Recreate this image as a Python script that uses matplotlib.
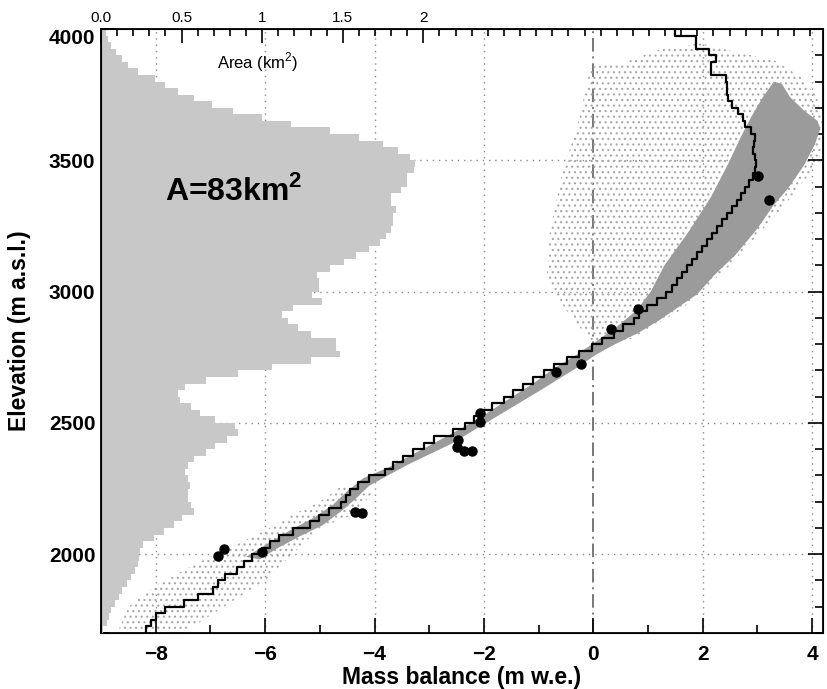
import numpy as np
import matplotlib.pyplot as plt
from matplotlib.ticker import MultipleLocator, FixedLocator, FixedFormatter

plt.rcParams['font.family'] = ['Liberation Sans', 'DejaVu Sans']
plt.rcParams['mathtext.fontset'] = 'custom'
plt.rcParams['mathtext.rm'] = 'Liberation Sans'
plt.rcParams['mathtext.bf'] = 'Liberation Sans:bold'
plt.rcParams['hatch.linewidth'] = 0.8

# 25 m elevation bands, lower edges (m a.s.l.)
band_bottom = np.arange(1700, 4000, 25)
band_width = 25

# glacier area per band (km2), from 1700 m upwards
area_km2 = [0.015, 0.035, 0.05, 0.065, 0.085, 0.11, 0.13, 0.16, 0.185, 0.21,
            0.23, 0.235, 0.24, 0.26, 0.33, 0.39, 0.45, 0.50, 0.58, 0.56,
            0.54, 0.54, 0.55, 0.54, 0.52, 0.54, 0.58, 0.65, 0.71, 0.78,
            0.85, 0.83, 0.71, 0.615, 0.56, 0.49, 0.48, 0.52, 0.65, 0.85,
            1.06, 1.30, 1.48, 1.46, 1.46, 1.30, 1.22, 1.16, 1.12, 1.19,
            1.37, 1.31, 1.35, 1.35, 1.34, 1.42, 1.51, 1.58, 1.66, 1.73,
            1.77, 1.80, 1.81, 1.81, 1.83, 1.80, 1.80, 1.86, 1.90, 1.90,
            1.94, 1.95, 1.92, 1.84, 1.75, 1.60, 1.42, 1.18, 1.00, 0.82,
            0.69, 0.575, 0.48, 0.40, 0.335, 0.23, 0.17, 0.13, 0.09, 0.06,
            0.045, 0.03]

# band-averaged modelled mass balance (m w.e.), from 1700 m upwards
mb_band = [-8.18, -8.08, -8.00, -7.83, -7.48, -7.22, -6.95, -6.86, -6.73, -6.52,
           -6.38, -6.24, -6.06, -5.91, -5.74, -5.49, -5.18, -5.01, -4.83, -4.62,
           -4.52, -4.45, -4.31, -4.10, -3.81, -3.67, -3.47, -3.29, -3.10, -2.92,
           -2.56, -2.34, -2.19, -2.04, -1.85, -1.64, -1.46, -1.29, -1.10, -0.91,
           -0.71, -0.48, -0.27, -0.02, 0.16, 0.37, 0.55, 0.74, 0.83, 0.98,
           1.17, 1.32, 1.44, 1.53, 1.62, 1.72, 1.80, 1.90, 1.98, 2.07,
           2.17, 2.27, 2.36, 2.45, 2.54, 2.62, 2.70, 2.78, 2.85, 2.92,
           2.95, 2.97, 2.96, 2.92, 2.93, 2.95, 2.88, 2.78, 2.73, 2.65,
           2.54, 2.47, 2.45, 2.45, 2.43, 2.15, 2.15, 2.25, 2.11, 1.87,
           1.87, 1.50]

# stake measurements
stake_mb = [-6.87, -6.75, -6.06, -4.36, -4.22, -2.48, -2.49, -2.36, -2.22,
            -2.07, -2.07, -0.68, -0.23, 0.32, 0.82, 3.01, 3.22]
stake_elev = [1993, 2021, 2008, 2162, 2158, 2435, 2409, 2394, 2394,
              2537, 2505, 2695, 2724, 2859, 2935, 3441, 3350]

# outline of the dense part of the gridded point balances (mb, elevation)
dense_mb = [-6.35, -5.95, -5.55, -5.1, -4.75, -4.5, -4.2, -3.75, -3.3, -2.85,
            -2.4, -2.0, -1.55, -1.1, -0.7, -0.3, 0.05, 0.45, 0.8, 1.05,
            1.3, 1.75, 2.15, 2.45, 2.7, 2.9, 3.1, 3.3, 3.45, 3.6,
            3.85, 4.1, 4.15, 4.05, 3.85, 3.55, 3.3, 3.0, 2.6, 2.2,
            1.9, 1.55, 1.2, 0.8, 0.4, 0.05, -0.3, -0.65, -1.0, -1.4,
            -1.8, -2.2, -2.6, -3.0, -3.4, -3.8, -4.1, -4.35, -4.6, -4.95,
            -5.35, -5.8, -6.1]
dense_elev = [1990, 2040, 2090, 2140, 2190, 2240, 2290, 2330, 2380, 2430,
              2480, 2530, 2590, 2650, 2710, 2760, 2810, 2870, 2930, 3000,
              3100, 3230, 3360, 3480, 3590, 3670, 3740, 3800, 3790, 3740,
              3690, 3650, 3620, 3560, 3480, 3390, 3330, 3240, 3140, 3060,
              2990, 2940, 2890, 2840, 2800, 2760, 2710, 2665, 2620, 2570,
              2520, 2470, 2420, 2380, 2340, 2295, 2260, 2210, 2165, 2110,
              2070, 2020, 1980]

# outline of the scattered points, high part of the glacier
upper_mb = [0.0, -0.5, -0.85, -0.8, -0.6, -0.25, -0.05, 0.55, 1.17, 1.96,
            2.69, 3.3, 3.79, 4.09, 4.18, 4.15, 3.5, 2.5, 1.6, 0.7]
upper_elev = [2800, 2930, 3050, 3220, 3425, 3666, 3856, 3870, 3920, 3946,
              3908, 3882, 3818, 3742, 3650, 3500, 3330, 3100, 2930, 2820]

# outline of the scattered points, tongue
lower_mb = [-8.7, -8.5, -8.0, -7.3, -6.6, -6.0, -5.5, -5.0, -4.6,
            -4.0, -4.4, -5.0, -5.6, -6.0, -6.6, -7.2, -7.6]
lower_elev = [1700, 1800, 1880, 1960, 2030, 2090, 2150, 2200, 2260,
              2240, 2150, 2100, 1980, 1900, 1820, 1740, 1700]

fig = plt.figure(figsize=(8.28, 6.89), dpi=100)
ax = fig.add_axes([0.122, 0.0813, 0.872, 0.8766])
ax.set_xlim(-9, 4.2)
ax.set_ylim(1700, 4000)

# grid
for xv in [-8, -6, -4, -2, 2, 4]:
    ax.axvline(xv, color='#8c8c8c', lw=1.0, ls=(0, (1, 3.5)), zorder=0)
for yv in [2000, 2500, 3000, 3500]:
    ax.axhline(yv, color='#8c8c8c', lw=1.0, ls=(0, (1, 3.5)), zorder=0)
ax.axvline(0, color='#777777', lw=1.4, ls=(0, (7, 2.5, 1, 2.5)), zorder=0)

# point balances
ax.fill(upper_mb, upper_elev, facecolor='none', edgecolor='#a6a6a6',
        hatch='...', lw=0, zorder=1)
ax.fill(lower_mb, lower_elev, facecolor='none', edgecolor='#a6a6a6',
        hatch='...', lw=0, zorder=1)
ax.fill(dense_mb, dense_elev, color='#9b9b9b', lw=0, zorder=2)

# band-averaged profile as a staircase
step_y = np.column_stack([band_bottom, band_bottom + band_width]).ravel()
step_x = np.repeat(mb_band, 2)
ax.plot(step_x, step_y, color='black', lw=1.6, zorder=3)

ax.plot(stake_mb, stake_elev, 'o', color='black', ms=6.5, zorder=4)

ax.xaxis.set_major_locator(MultipleLocator(2))
ax.xaxis.set_minor_locator(MultipleLocator(1))
ax.yaxis.set_major_locator(MultipleLocator(500))
ax.yaxis.set_minor_locator(MultipleLocator(100))
ax.tick_params(which='both', direction='in', top=False, right=True, width=1.2)
ax.tick_params(which='major', length=11, labelsize=15)
ax.tick_params(axis='x', which='major', pad=9)
ax.tick_params(axis='y', which='major', pad=4)
ax.tick_params(which='minor', length=6)
ax.set_xticks([-8, -6, -4, -2, 0, 2, 4])
ax.set_xticklabels(['\u22128', '\u22126', '\u22124', '\u22122', '0', '2', '4'],
                   fontweight='bold')
ax.set_yticks([2000, 2500, 3000, 3500, 4000])
ax.set_yticklabels(['2000', '2500', '3000', '3500', '4000'], fontweight='bold')
ax.get_yticklabels()[-1].set_va('top')
ax.set_xlabel('Mass balance (m w.e.)', fontsize=16.5, fontweight='bold', labelpad=1)
ax.set_ylabel('Elevation (m a.s.l.)', fontsize=16.5, fontweight='bold', labelpad=13)
for sp in ax.spines.values():
    sp.set_linewidth(1.3)

# hypsometry on the top axis
ax2 = ax.twiny()
ax2.set_xlim(0, 4.48)
ax2.barh(band_bottom, area_km2, height=band_width, align='edge',
         color='#c8c8c8', lw=0, zorder=1)
ax2.xaxis.set_major_locator(FixedLocator([0, 0.5, 1, 1.5, 2]))
ax2.xaxis.set_major_formatter(FixedFormatter(['0.0', '0.5', '1', '1.5', '2']))
ax2.xaxis.set_minor_locator(MultipleLocator(0.1))
ax2.tick_params(which='both', direction='in', width=1.2, labelsize=11, pad=3)
ax2.tick_params(which='major', length=10)
ax2.tick_params(which='minor', length=5)
ax2.text(0.97, 3851, r'Area (km$^{\mathrm{2}}$)', fontsize=12,
         ha='center', va='baseline', zorder=5)
ax2.text(0.40, 3349, r'A=83km$^{\mathbf{2}}$', fontsize=23, fontweight='bold',
         ha='left', va='baseline', zorder=5)

fig.savefig('out.png', dpi=100, facecolor='w')
